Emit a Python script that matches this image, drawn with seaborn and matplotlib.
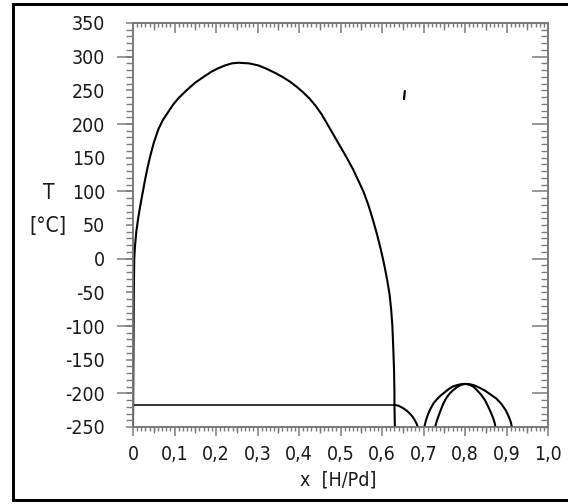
import matplotlib
matplotlib.use("Agg")
import matplotlib.pyplot as plt
import seaborn as sns
import pandas as pd
from matplotlib.lines import Line2D
from matplotlib.ticker import MultipleLocator, FixedLocator, FixedFormatter, NullFormatter

# ---------------- data ----------------
dome_x = [0.0, 0.001, 0.002, 0.003, 0.005, 0.008, 0.012, 0.017, 0.023, 0.029, 0.035,
          0.041, 0.050, 0.061, 0.072, 0.085, 0.097, 0.109, 0.129, 0.149, 0.170, 0.190,
          0.206, 0.222, 0.238, 0.254, 0.280, 0.302, 0.322, 0.342, 0.360, 0.378, 0.395,
          0.410, 0.425, 0.440, 0.455, 0.470, 0.485, 0.500, 0.515, 0.530, 0.543, 0.555,
          0.567, 0.578, 0.588, 0.597, 0.605, 0.612, 0.618, 0.622, 0.625, 0.627, 0.629,
          0.630, 0.630, 0.631]
dome_T = [-250, -150, -50, 0, 20, 40, 58, 77, 97, 117, 135,
          151, 172, 192, 206, 218, 229, 238, 250, 261, 270, 278,
          283, 287, 290, 291, 290, 287, 282, 276, 270, 263, 255,
          247, 238, 227, 214, 198, 182, 166, 150, 133, 116, 100,
          80, 58, 36, 14, -8, -30, -52, -75, -100, -130, -165,
          -200, -217, -250]

plateau_x = [0.0, 0.630]
plateau_T = [-217, -217]

tail_x = [0.630, 0.640, 0.651, 0.660, 0.667, 0.674, 0.680, 0.684, 0.686]
tail_T = [-217, -218.5, -222, -226, -230, -235, -241, -246, -250]

low1_x = [0.702, 0.706, 0.711, 0.716, 0.724, 0.732, 0.740, 0.750, 0.760, 0.770, 0.780,
          0.790, 0.800, 0.810, 0.820, 0.830, 0.840, 0.848, 0.856, 0.862, 0.868, 0.872, 0.873]
low1_T = [-250, -240, -231, -224, -215, -209, -204, -199, -194, -190, -188,
          -186.5, -186, -187, -190, -196, -203, -210, -220, -228, -237, -245, -250]

low2_x = [0.728, 0.731, 0.736, 0.742, 0.748, 0.755, 0.762, 0.770, 0.780, 0.790, 0.800,
          0.812, 0.824, 0.836, 0.848, 0.860, 0.876, 0.888, 0.898, 0.905, 0.910, 0.913]
low2_T = [-250, -243, -234, -224, -215, -207, -201, -196, -191, -187.5, -186,
          -186.5, -188.5, -192, -196, -201, -208, -216, -225, -234, -242, -250]

mark_x = [0.653, 0.655]
mark_T = [237, 249]

x_ticks = [0.0, 0.1, 0.2, 0.3, 0.4, 0.5, 0.6, 0.7, 0.8, 0.9, 1.0]
x_labels = ["0", "0,1", "0,2", "0,3", "0,4", "0,5", "0,6", "0,7", "0,8", "0,9", "1,0"]
y_ticks = [-250, -200, -150, -100, -50, 0, 50, 100, 150, 200, 250, 300, 350]
y_labels = ["-250", "-200", "-150", "-100", "-50", "0", "50", "100", "150", "200",
            "250", "300", "350"]
y_long = [-200, -100, 0, 100, 200, 300]
x_mid = [0.05, 0.15, 0.25, 0.35, 0.45, 0.55, 0.65, 0.75, 0.85, 0.95]

# ---------------- style ----------------
sns.set_theme(style="white")
plt.rcParams["font.family"] = ["DejaVu Sans"]
plt.rcParams["font.stretch"] = "condensed"
plt.rcParams["axes.linewidth"] = 1.2

GRAY = "#7a7a7a"
TXT = "#1a1a1a"
FS = 14
PX = 0.72  # px -> pt at dpi 100

fig = plt.figure(figsize=(5.68, 5.04), dpi=100)
ax = fig.add_axes([133 / 568, 1 - 427 / 504, 415 / 568, 404 / 504])

def draw(xs, ts, lw=1.5, color="black"):
    df = pd.DataFrame({"x": xs, "T": ts})
    sns.lineplot(data=df, x="x", y="T", sort=False, estimator=None, ax=ax,
                 color=color, linewidth=lw)

draw(dome_x, dome_T)
draw(plateau_x, plateau_T, lw=1.3, color="#222222")
draw(tail_x, tail_T)
draw(low1_x, low1_T)
draw(low2_x, low2_T)
draw(mark_x, mark_T, lw=1.6)

ax.set_xlim(0, 1.0)
ax.set_ylim(-250, 350)
ax.set_xlabel("")
ax.set_ylabel("")

for s in ax.spines.values():
    s.set_color(GRAY)
    s.set_linewidth(1.2)

# main bottom / left ticks
ax.xaxis.set_major_locator(FixedLocator(x_ticks))
ax.xaxis.set_major_formatter(FixedFormatter(x_labels))
ax.xaxis.set_minor_locator(MultipleLocator(0.01))
ax.yaxis.set_major_locator(FixedLocator(y_ticks))
ax.yaxis.set_major_formatter(FixedFormatter(y_labels))
ax.yaxis.set_minor_locator(MultipleLocator(10))
ax.tick_params(axis="x", which="major", direction="out", length=9 * PX, width=1.1,
               color=GRAY, labelsize=FS, pad=9 * PX, labelcolor=TXT,
               bottom=True, top=False)
ax.tick_params(axis="x", which="minor", direction="out", length=3.5 * PX, width=1.0,
               color=GRAY, bottom=True, top=False)
ax.tick_params(axis="y", which="major", direction="out", length=7 * PX, width=1.1,
               color=GRAY, labelsize=FS, pad=21 * PX, labelcolor=TXT,
               left=True, right=False)
ax.tick_params(axis="y", which="minor", direction="out", length=7 * PX, width=1.0,
               color=GRAY, left=True, right=False)

def style_sec(sec):
    for s in sec.spines.values():
        s.set_color(GRAY)
        s.set_linewidth(1.2)

# medium ticks at 0.05 on bottom
secb = ax.secondary_xaxis("bottom")
secb.xaxis.set_major_locator(FixedLocator(x_mid))
secb.xaxis.set_major_formatter(NullFormatter())
secb.tick_params(axis="x", which="major", direction="out", length=6 * PX, width=1.0, color=GRAY)
style_sec(secb)

# long ticks at 100 on left
secl = ax.secondary_yaxis("left")
secl.yaxis.set_major_locator(FixedLocator(y_long))
secl.yaxis.set_major_formatter(NullFormatter())
secl.tick_params(axis="y", which="major", direction="out", length=16 * PX, width=1.1, color=GRAY)
style_sec(secl)

# top ticks (inward)
sect = ax.secondary_xaxis("top")
sect.xaxis.set_major_locator(FixedLocator(x_ticks))
sect.xaxis.set_major_formatter(NullFormatter())
sect.xaxis.set_minor_locator(MultipleLocator(0.01))
sect.tick_params(axis="x", which="major", direction="in", length=10 * PX, width=1.1, color=GRAY)
sect.tick_params(axis="x", which="minor", direction="in", length=3.5 * PX, width=1.0, color=GRAY)
style_sec(sect)

sect2 = ax.secondary_xaxis("top")
sect2.xaxis.set_major_locator(FixedLocator(x_mid))
sect2.xaxis.set_major_formatter(NullFormatter())
sect2.tick_params(axis="x", which="major", direction="in", length=6.5 * PX, width=1.0, color=GRAY)
style_sec(sect2)

# right ticks (inward)
secr = ax.secondary_yaxis("right")
secr.yaxis.set_major_locator(FixedLocator(y_long))
secr.yaxis.set_major_formatter(NullFormatter())
secr.yaxis.set_minor_locator(MultipleLocator(10))
secr.tick_params(axis="y", which="major", direction="in", length=16 * PX, width=1.1, color=GRAY)
secr.tick_params(axis="y", which="minor", direction="in", length=7 * PX, width=1.0, color=GRAY)
style_sec(secr)

# axis labels
fig.text(338 / 568, 1 - 480 / 504, "x  [H/Pd]", ha="center", va="center",
         fontsize=FS, color=TXT)
fig.text(49 / 568, 1 - 193 / 504, "T", ha="center", va="center",
         fontsize=FS + 1, color=TXT)
fig.text(48 / 568, 1 - 226 / 504, "[°C]", ha="center", va="center",
         fontsize=FS + 1, color=TXT)

# outer frame (left, top, bottom)
lw_frame = 3 * PX
fig.add_artist(Line2D([12.5 / 568, 12.5 / 568], [1 - 3.5 / 504, 1 - 499.5 / 504],
                      transform=fig.transFigure, color="black", lw=lw_frame,
                      solid_capstyle="projecting"))
fig.add_artist(Line2D([12.5 / 568, 1.0], [1 - 3.5 / 504, 1 - 3.5 / 504],
                      transform=fig.transFigure, color="black", lw=lw_frame))
fig.add_artist(Line2D([12.5 / 568, 1.0], [1 - 499.5 / 504, 1 - 499.5 / 504],
                      transform=fig.transFigure, color="black", lw=lw_frame))

fig.savefig("out.png", dpi=100, facecolor="white")
